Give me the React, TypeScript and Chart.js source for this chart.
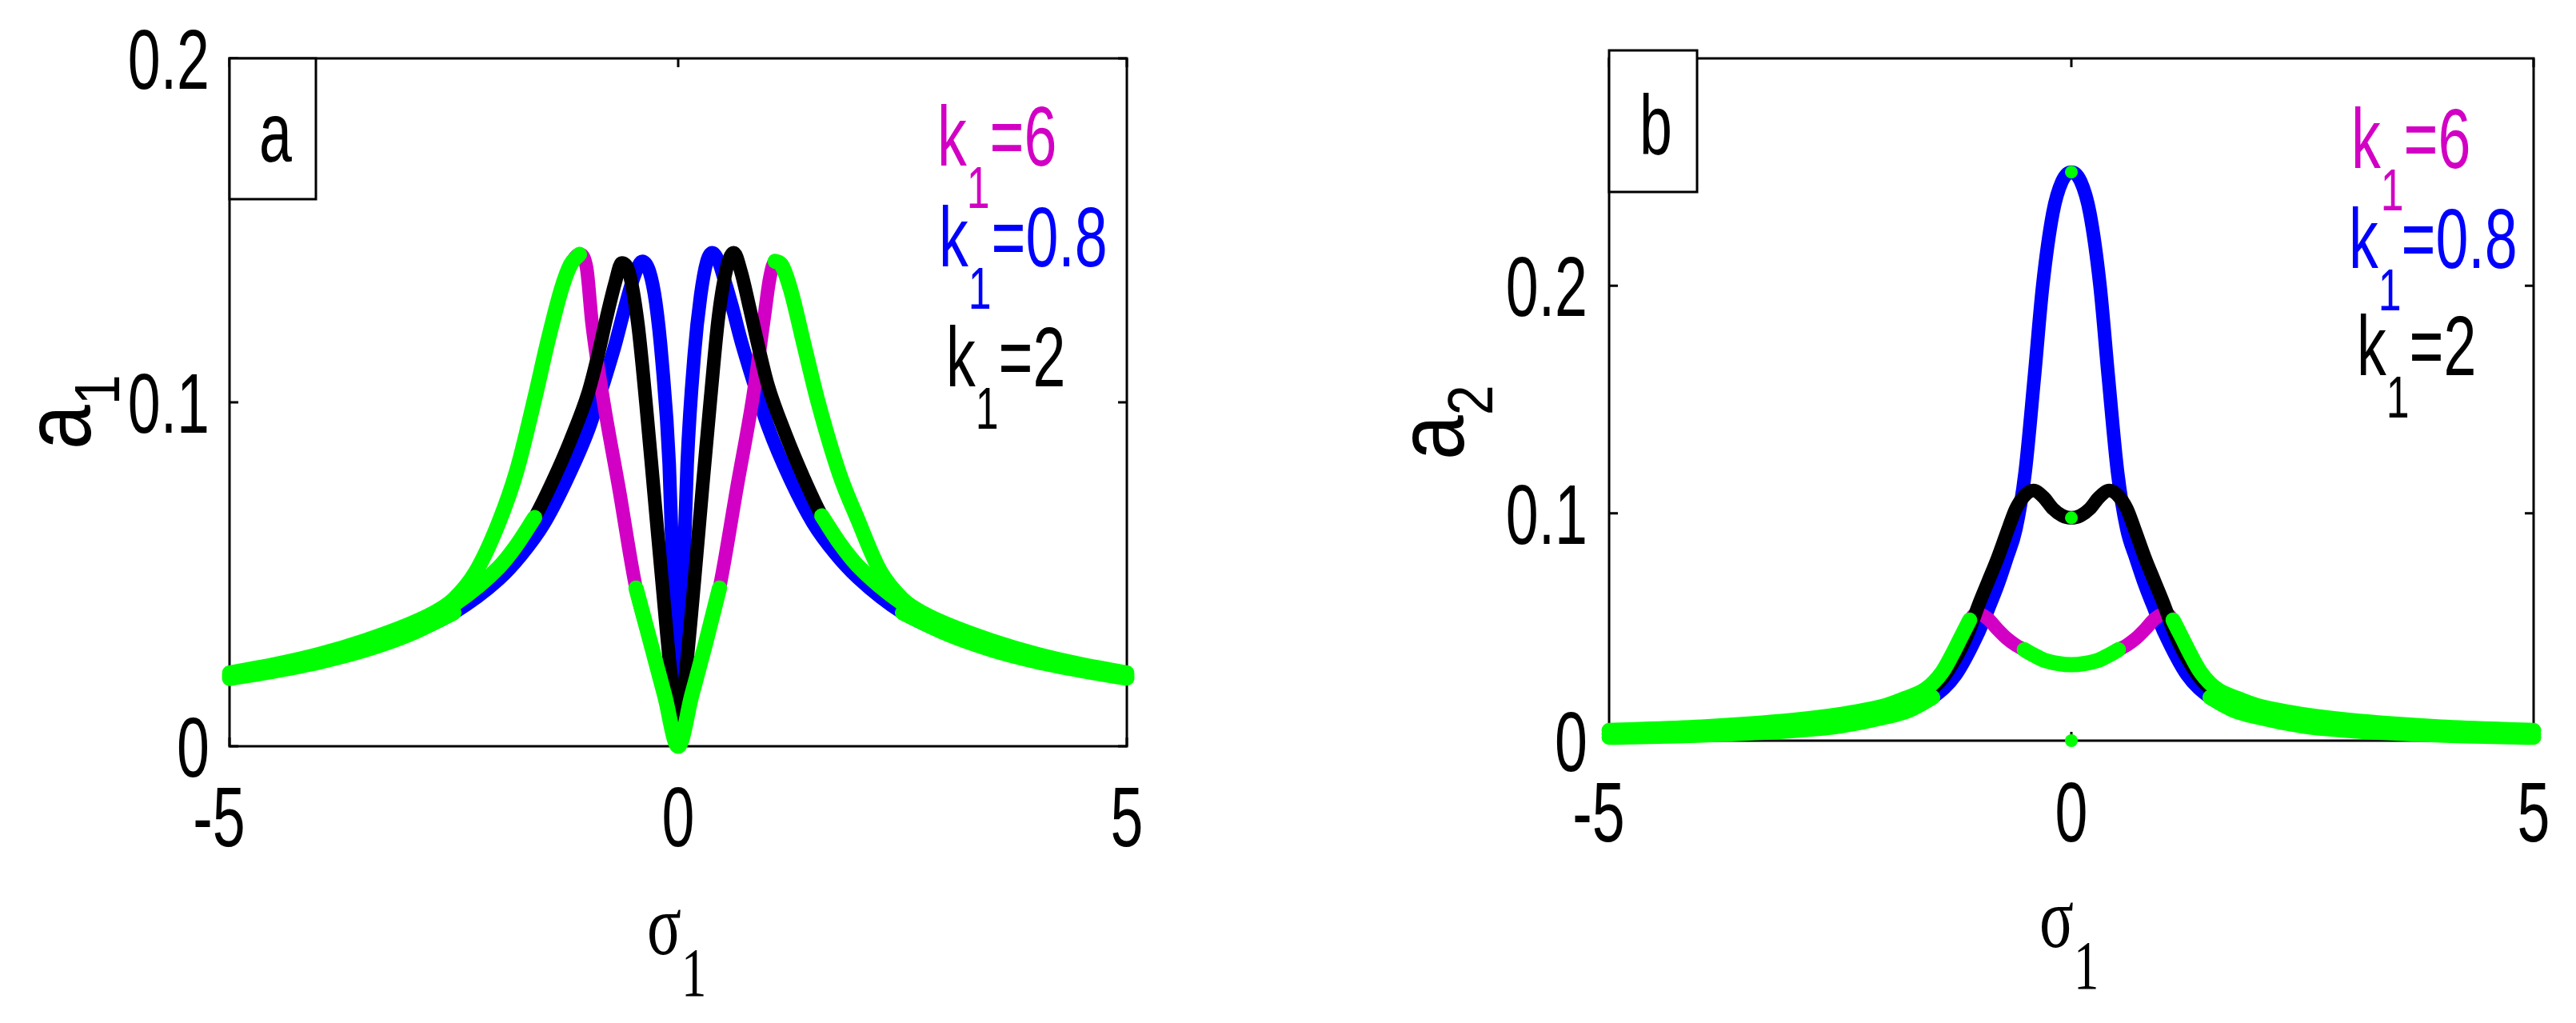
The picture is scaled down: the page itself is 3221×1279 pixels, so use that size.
import React, { useEffect, useRef } from 'react';
import { Chart, registerables } from 'chart.js';

Chart.register(...registerables);

// ---------------- data ----------------
const xTicks = [-5, 0, 5];
const xTickLabels = ['-5', '0', '5'];
const yTicksA = [0, 0.1, 0.2];
const yTickLabelsA = ['0', '0.1', '0.2'];
const yTicksB = [0, 0.1, 0.2];
const yTickLabelsB = ['0', '0.1', '0.2'];
const yMaxA = 0.2;
const yMaxB = 0.3;

// panel (a): a1 versus sigma1
const sigmaA_k08 = [-5, -4.5, -4, -3.5, -3, -2.5, -2, -1.75, -1.5, -1.25, -1, -0.85, -0.7, -0.6, -0.5, -0.4, -0.32, -0.25, -0.18, -0.1, -0.04, 0, 0.04, 0.1, 0.18, 0.25, 0.32, 0.38, 0.45, 0.5, 0.6, 0.7, 0.85, 1, 1.25, 1.5, 1.75, 2, 2.5, 3, 3.5, 4, 4.5, 5];
const a1_k08 = [0.0197, 0.0219, 0.0245, 0.0279, 0.0325, 0.0388, 0.0485, 0.0555, 0.0645, 0.0770, 0.0920, 0.1040, 0.1170, 0.1270, 0.1360, 0.1410, 0.1380, 0.1290, 0.1120, 0.0820, 0.0350, 0.0050, 0.0350, 0.0820, 0.1140, 0.1310, 0.1410, 0.1435, 0.1410, 0.1370, 0.1280, 0.1180, 0.1050, 0.0930, 0.0775, 0.0650, 0.0560, 0.0490, 0.0388, 0.0326, 0.0280, 0.0246, 0.0220, 0.0198];

const sigmaA_k2 = [-5, -4.5, -4, -3.5, -3, -2.5, -2, -1.8, -1.6, -1.4, -1.2, -1, -0.9, -0.8, -0.7, -0.63, -0.55, -0.45, -0.36, -0.27, -0.18, -0.09, 0, 0.09, 0.18, 0.27, 0.36, 0.45, 0.55, 0.62, 0.7, 0.8, 0.9, 1, 1.2, 1.4, 1.6, 1.8, 2, 2.5, 3, 3.5, 4, 4.5, 5];
const a1_k2 = [0.0205, 0.0228, 0.0256, 0.0292, 0.0342, 0.0412, 0.0520, 0.0585, 0.0665, 0.0770, 0.0890, 0.1030, 0.1130, 0.1245, 0.1350, 0.1405, 0.1380, 0.1230, 0.1000, 0.0740, 0.0480, 0.0230, 0.0040, 0.0230, 0.0480, 0.0750, 0.1010, 0.1250, 0.1400, 0.1435, 0.1380, 0.1270, 0.1155, 0.1050, 0.0905, 0.0780, 0.0670, 0.0590, 0.0525, 0.0415, 0.0344, 0.0293, 0.0257, 0.0229, 0.0206];

const sigmaA_k6 = [-5, -4.5, -4, -3.5, -3, -2.75, -2.5, -2.25, -2, -1.8, -1.6, -1.45, -1.3, -1.2, -1.1, -1.02, -0.96, -0.83, -0.66, -0.47, -0.3, -0.15, 0, 0.15, 0.3, 0.46, 0.66, 0.83, 0.96, 1.02, 1.08, 1.15, 1.25, 1.4, 1.56, 1.8, 2, 2.25, 2.5, 2.75, 3, 3.5, 4, 4.5, 5];
const a1_k6 = [0.0213, 0.0237, 0.0267, 0.0306, 0.0354, 0.0384, 0.0428, 0.0510, 0.0650, 0.0800, 0.1010, 0.1180, 0.1330, 0.1400, 0.1430, 0.1390, 0.1230, 0.1000, 0.0750, 0.0460, 0.0294, 0.0147, 0.0000, 0.0147, 0.0294, 0.0460, 0.0760, 0.1010, 0.1250, 0.1360, 0.1410, 0.1400, 0.1330, 0.1170, 0.1000, 0.0790, 0.0660, 0.0510, 0.0428, 0.0384, 0.0354, 0.0306, 0.0267, 0.0237, 0.0213];

// stable (green) parts of each branch, panel (a)
const stableA_k6 = [[-5, -1.1], [-0.47, 0.46], [1.08, 5]];
const stableA_k2 = [[-5, -1.6], [1.6, 5]];
const stableA_k08 = [[-5, -2.5], [2.5, 5]];
const stablePointsA_sigma = [0];
const stablePointsA_a = [0];

// panel (b): a2 versus sigma1
const sigmaB_k08 = [-5, -4, -3, -2.5, -2, -1.75, -1.5, -1.25, -1, -0.9, -0.8, -0.7, -0.6, -0.5, -0.4, -0.31, -0.2, -0.1, 0, 0.1, 0.2, 0.31, 0.4, 0.5, 0.6, 0.7, 0.8, 0.9, 1, 1.25, 1.5, 1.75, 2, 2.5, 3, 4, 5];
const a2_k08 = [0.0015, 0.0025, 0.0045, 0.0065, 0.0105, 0.0135, 0.0190, 0.0290, 0.0480, 0.0577, 0.0680, 0.0800, 0.0930, 0.1180, 0.1600, 0.2000, 0.2320, 0.2460, 0.2500, 0.2460, 0.2320, 0.2000, 0.1600, 0.1180, 0.0930, 0.0800, 0.0680, 0.0577, 0.0480, 0.0290, 0.0190, 0.0135, 0.0105, 0.0065, 0.0045, 0.0025, 0.0015];

const sigmaB_k2 = [-5, -4, -3, -2.5, -2, -1.8, -1.6, -1.5, -1.4, -1.3, -1.2, -1.1, -1, -0.9, -0.8, -0.68, -0.6, -0.5, -0.41, -0.3, -0.2, -0.1, 0, 0.1, 0.2, 0.3, 0.41, 0.5, 0.6, 0.68, 0.8, 0.9, 1, 1.1, 1.2, 1.3, 1.4, 1.5, 1.6, 1.8, 2, 2.5, 3, 4, 5];
const a2_k2 = [0.0030, 0.0040, 0.0065, 0.0088, 0.0128, 0.0157, 0.0200, 0.0230, 0.0270, 0.0330, 0.0400, 0.0490, 0.0600, 0.0700, 0.0800, 0.0935, 0.1020, 0.1080, 0.1100, 0.1070, 0.1020, 0.0990, 0.0980, 0.0990, 0.1020, 0.1070, 0.1100, 0.1080, 0.1020, 0.0935, 0.0800, 0.0700, 0.0600, 0.0490, 0.0400, 0.0330, 0.0270, 0.0230, 0.0200, 0.0157, 0.0128, 0.0088, 0.0065, 0.0040, 0.0030];

const sigmaB_k6 = [-5, -4, -3, -2.5, -2, -1.8, -1.57, -1.4, -1.3, -1.2, -1.1, -1.02, -0.9, -0.8, -0.7, -0.6, -0.51, -0.4, -0.3, -0.15, 0, 0.15, 0.3, 0.4, 0.51, 0.6, 0.7, 0.8, 0.9, 1.02, 1.1, 1.2, 1.3, 1.4, 1.57, 1.8, 2, 2.5, 3, 4, 5];
const a2_k6 = [0.0045, 0.0060, 0.0090, 0.0115, 0.0155, 0.0185, 0.0228, 0.0300, 0.0370, 0.0450, 0.0530, 0.0560, 0.0535, 0.0490, 0.0450, 0.0420, 0.0400, 0.0375, 0.0355, 0.0340, 0.0334, 0.0340, 0.0355, 0.0375, 0.0400, 0.0420, 0.0450, 0.0490, 0.0535, 0.0560, 0.0530, 0.0450, 0.0370, 0.0300, 0.0228, 0.0185, 0.0155, 0.0115, 0.0090, 0.0060, 0.0045];

const stableB_k6 = [[-5, -1.1], [-0.51, 0.51], [1.1, 5]];
const stableB_k2 = [[-5, -1.6], [1.6, 5]];
const stableB_k08 = [[-5, -1.5], [1.5, 5]];
const stablePointsB_sigma = [0, 0, 0];
const stablePointsB_a = [0.25, 0.098, 0];

// ---------------- styles ----------------
const MAG = '#D200C4';
const BLUE = '#0000FF';
const BLACK = '#000000';
const GREEN = '#00FF00';
const SANS = "'Liberation Sans', Arial, Helvetica, sans-serif";
const SERIF = "'Liberation Serif', 'Times New Roman', serif";
const SX = 0.7;
const TICK = 11;
const H = 1279;

type Run = { t: string; sub?: boolean };

interface TextOpts {
  size: number;
  subSize: number;
  subDrop: number;
  family: string;
  color: string;
  align?: 'left' | 'center' | 'right';
  sx?: number;
  sy?: number;
  rotate?: boolean;
}

function drawRuns(ctx: CanvasRenderingContext2D, runs: Run[], x: number, y: number, o: TextOpts) {
  const sx = o.sx ?? SX;
  const sy = o.sy ?? 1;
  ctx.save();
  ctx.fillStyle = o.color;
  ctx.textBaseline = 'alphabetic';
  ctx.textAlign = 'left';
  const widths = runs.map((r) => {
    ctx.font = `${r.sub ? o.subSize : o.size}px ${o.family}`;
    return ctx.measureText(r.t).width;
  });
  const total = widths.reduce((s, w) => s + w, 0);
  ctx.translate(x, y);
  ctx.scale(sx, sy);
  if (o.rotate) ctx.rotate(-Math.PI / 2);
  let pen = o.align === 'center' ? -total / 2 : o.align === 'right' ? -total : 0;
  runs.forEach((r, i) => {
    ctx.font = `${r.sub ? o.subSize : o.size}px ${o.family}`;
    ctx.fillText(r.t, pen, r.sub ? o.subDrop : 0);
    pen += widths[i];
  });
  ctx.restore();
}

interface LegendItem { runs: Run[]; color: string; x: number; y: number }

interface PanelCfg {
  key: string;
  offset: number;
  width: number;
  area: { left: number; top: number; right: number; bottom: number };
  yMax: number;
  yTicks: number[];
  yTickLabels: string[];
  yLabelRight: number;
  xLabelBase: number;
  xTitle: { x: number; y: number };
  yTitle: { runs: Run[]; x: number; y: number };
  legend: LegendItem[];
  box: { l: number; t: number; r: number; b: number; label: string; lx: number; ly: number };
  curves: { sigma: number[]; a: number[]; color: string; stable: number[][] }[];
  points: { sigma: number[]; a: number[] };
}

function segment(sigma: number[], a: number[], lo: number, hi: number) {
  const out: { x: number; y: number }[] = [];
  sigma.forEach((s, i) => {
    if (s >= lo - 1e-9 && s <= hi + 1e-9) out.push({ x: s, y: a[i] });
  });
  return out;
}

function buildDatasets(cfg: PanelCfg) {
  const ds: any[] = [];
  const orderOf: Record<string, number> = { [BLUE]: 3, [MAG]: 2, [BLACK]: 1 };
  cfg.curves.forEach((c) => {
    ds.push({
      data: segment(c.sigma, c.a, -5, 5),
      borderColor: c.color,
      borderWidth: 17,
      order: orderOf[c.color],
    });
  });
  cfg.curves.forEach((c) => {
    c.stable.forEach(([lo, hi]) => {
      ds.push({ data: segment(c.sigma, c.a, lo, hi), borderColor: GREEN, borderWidth: 19, order: 0 });
    });
  });
  ds.push({
    data: cfg.points.sigma.map((s, i) => ({ x: s, y: cfg.points.a[i] })),
    showLine: false,
    pointRadius: 8,
    pointBackgroundColor: GREEN,
    pointBorderWidth: 0,
    order: 0,
  });
  return ds.map((d) => ({
    pointRadius: 0,
    cubicInterpolationMode: 'monotone',
    borderCapStyle: 'round',
    borderJoinStyle: 'round',
    clip: false,
    fill: false,
    ...d,
  }));
}

function overlay(cfg: PanelCfg) {
  return {
    id: 'overlay' + cfg.key,
    beforeDatasetsDraw(chart: any) {
      const ctx: CanvasRenderingContext2D = chart.ctx;
      const { left, right, top, bottom } = chart.chartArea;
      const xs = chart.scales.x;
      const ys = chart.scales.y;
      ctx.save();
      ctx.strokeStyle = '#000';
      ctx.lineWidth = 3;
      ctx.strokeRect(left, top, right - left, bottom - top);
      ctx.beginPath();
      xTicks.forEach((v) => {
        const px = xs.getPixelForValue(v);
        ctx.moveTo(px, bottom);
        ctx.lineTo(px, bottom - TICK);
        ctx.moveTo(px, top);
        ctx.lineTo(px, top + TICK);
      });
      cfg.yTicks.forEach((v) => {
        const py = ys.getPixelForValue(v);
        ctx.moveTo(left, py);
        ctx.lineTo(left + TICK, py);
        ctx.moveTo(right, py);
        ctx.lineTo(right - TICK, py);
      });
      ctx.stroke();
      ctx.restore();
    },
    afterDraw(chart: any) {
      const ctx: CanvasRenderingContext2D = chart.ctx;
      const xs = chart.scales.x;
      const ys = chart.scales.y;
      const tick = { size: 105, subSize: 74, subDrop: 53, family: SANS, color: '#000' };
      cfg.yTicks.forEach((v, i) => {
        drawRuns(ctx, [{ t: cfg.yTickLabels[i] }], cfg.yLabelRight, ys.getPixelForValue(v) + 38, { ...tick, align: 'right' });
      });
      xTicks.forEach((v, i) => {
        const lab = xTickLabels[i];
        const shift = lab.startsWith('-') ? -13 : 0;
        drawRuns(ctx, [{ t: lab }], xs.getPixelForValue(v) + shift, cfg.xLabelBase, { ...tick, align: 'center' });
      });
      drawRuns(ctx, [{ t: 'σ' }, { t: '1', sub: true }], cfg.xTitle.x, cfg.xTitle.y, {
        size: 109, subSize: 86, subDrop: 52, family: SERIF, color: '#000', sx: 0.73,
      });
      drawRuns(ctx, cfg.yTitle.runs, cfg.yTitle.x, cfg.yTitle.y, {
        size: 118, subSize: 80, subDrop: 36, family: SANS, color: '#000', rotate: true, sx: 1, sy: 0.85,
      });
      cfg.legend.forEach((l) => drawRuns(ctx, l.runs, l.x, l.y, { ...tick, color: l.color }));
      const b = cfg.box;
      ctx.save();
      ctx.fillStyle = '#fff';
      ctx.fillRect(b.l, b.t, b.r - b.l, b.b - b.t);
      ctx.strokeStyle = '#000';
      ctx.lineWidth = 3;
      ctx.strokeRect(b.l, b.t, b.r - b.l, b.b - b.t);
      ctx.restore();
      drawRuns(ctx, [{ t: b.label }], b.lx, b.ly, tick);
    },
  };
}

const legendRuns = (v: string): Run[] => [{ t: 'k' }, { t: '1', sub: true }, { t: '=' + v }];

const panelA: PanelCfg = {
  key: 'A',
  offset: 0,
  width: 1610,
  area: { left: 287, top: 73, right: 1409, bottom: 933 },
  yMax: yMaxA,
  yTicks: yTicksA,
  yTickLabels: yTickLabelsA,
  yLabelRight: 262,
  xLabelBase: 1058,
  xTitle: { x: 809, y: 1193 },
  yTitle: { runs: [{ t: 'a' }, { t: '1', sub: true }], x: 113, y: 562 },
  legend: [
    { runs: legendRuns('6'), color: MAG, x: 1172, y: 207 },
    { runs: legendRuns('0.8'), color: BLUE, x: 1174, y: 333 },
    { runs: legendRuns('2'), color: BLACK, x: 1183, y: 483 },
  ],
  box: { l: 287, t: 73, r: 395, b: 249, label: 'a', lx: 324, ly: 202 },
  curves: [
    { sigma: sigmaA_k08, a: a1_k08, color: BLUE, stable: stableA_k08 },
    { sigma: sigmaA_k6, a: a1_k6, color: MAG, stable: stableA_k6 },
    { sigma: sigmaA_k2, a: a1_k2, color: BLACK, stable: stableA_k2 },
  ],
  points: { sigma: stablePointsA_sigma, a: stablePointsA_a },
};

const panelB: PanelCfg = {
  key: 'B',
  offset: 1610,
  width: 1611,
  area: { left: 402, top: 73, right: 1558, bottom: 926 },
  yMax: yMaxB,
  yTicks: yTicksB,
  yTickLabels: yTickLabelsB,
  yLabelRight: 375,
  xLabelBase: 1052,
  xTitle: { x: 940, y: 1184 },
  yTitle: { runs: [{ t: 'a' }, { t: '2', sub: true }], x: 220, y: 575 },
  legend: [
    { runs: legendRuns('6'), color: MAG, x: 1330, y: 210 },
    { runs: legendRuns('0.8'), color: BLUE, x: 1327, y: 335 },
    { runs: legendRuns('2'), color: BLACK, x: 1337, y: 469 },
  ],
  box: { l: 402, t: 63, r: 512, b: 240, label: 'b', lx: 440, ly: 193 },
  curves: [
    { sigma: sigmaB_k08, a: a2_k08, color: BLUE, stable: stableB_k08 },
    { sigma: sigmaB_k6, a: a2_k6, color: MAG, stable: stableB_k6 },
    { sigma: sigmaB_k2, a: a2_k2, color: BLACK, stable: stableB_k2 },
  ],
  points: { sigma: stablePointsB_sigma, a: stablePointsB_a },
};

function Panel({ cfg }: { cfg: PanelCfg }) {
  const ref = useRef<HTMLCanvasElement>(null);
  useEffect(() => {
    const canvas = ref.current;
    if (!canvas) return;
    const chart = new Chart(canvas, {
      type: 'line',
      data: { datasets: buildDatasets(cfg) },
      options: {
        animation: false,
        responsive: false,
        maintainAspectRatio: false,
        devicePixelRatio: 1,
        events: [],
        layout: {
          padding: {
            left: cfg.area.left,
            top: cfg.area.top,
            right: cfg.width - cfg.area.right,
            bottom: H - cfg.area.bottom,
          },
        },
        plugins: { legend: { display: false }, tooltip: { enabled: false } },
        scales: {
          x: { type: 'linear', min: -5, max: 5, display: false },
          y: { type: 'linear', min: 0, max: cfg.yMax, display: false },
        },
      } as any,
      plugins: [overlay(cfg) as any],
    });
    return () => chart.destroy();
  }, [cfg]);
  return (
    <canvas
      ref={ref}
      width={cfg.width}
      height={H}
      style={{ position: 'absolute', left: cfg.offset, top: 0, width: cfg.width, height: H }}
    />
  );
}

export default function App() {
  useEffect(() => {
    document.body.style.margin = '0';
  }, []);
  return (
    <div style={{ position: 'absolute', left: 0, top: 0, width: 3221, height: H, background: '#fff', overflow: 'hidden' }}>
      <Panel cfg={panelA} />
      <Panel cfg={panelB} />
    </div>
  );
}
